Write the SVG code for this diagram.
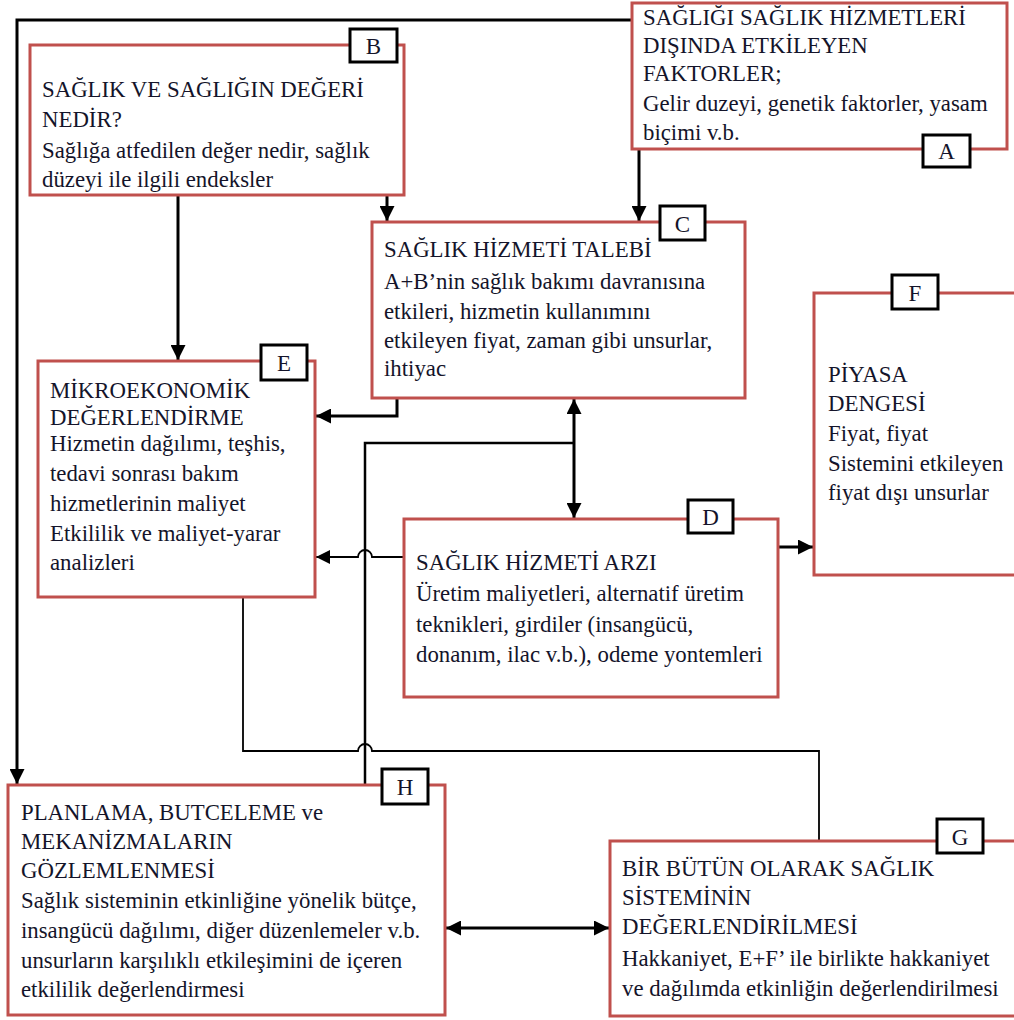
<svg xmlns="http://www.w3.org/2000/svg" width="1014" height="1020" viewBox="0 0 1014 1020" font-family="'Liberation Serif', 'DejaVu Serif', serif">
<style>
.box{fill:#fff;stroke:#c0504d;stroke-width:3}
.lbl{fill:#fff;stroke:#000;stroke-width:3}
.t{font-size:22.8px;fill:#14142a}
.lt{font-size:23px;fill:#14142a;text-anchor:middle}
.c3{fill:none;stroke:#000;stroke-width:3}
.c2{fill:none;stroke:#000;stroke-width:2.5}
.c1{fill:none;stroke:#000;stroke-width:1.8}
</style>
<defs>
<marker id="ah" viewBox="0 0 10 10" refX="10" refY="5" markerWidth="5" markerHeight="5" markerUnits="strokeWidth" orient="auto-start-reverse"><path d="M0,0 L10,5 L0,10 z" fill="#000"/></marker>
<marker id="ahs" viewBox="0 0 10 10" refX="10" refY="5" markerWidth="8" markerHeight="8" markerUnits="strokeWidth" orient="auto-start-reverse"><path d="M0,0 L10,5 L0,10 z" fill="#000"/></marker>
</defs>
<rect width="1014" height="1020" fill="#fff"/>

<g id="connectors">
<path class="c3" d="M632,20 H17 V784" marker-end="url(#ah)"/>
<path class="c3" d="M178,195 V360" marker-end="url(#ah)"/>
<path class="c3" d="M387,195 V221" marker-end="url(#ah)"/>
<path class="c3" d="M639,149 V221" marker-end="url(#ah)"/>
<path class="c3" d="M397,398 V416 H316" marker-end="url(#ah)"/>
<path class="c3" d="M574,399 V518" marker-start="url(#ah)" marker-end="url(#ah)"/>
<path class="c2" d="M574,443 H365 V784"/>
<path class="c1" d="M403,557 H372 A7,7 0 0 0 358,557 H316" marker-end="url(#ahs)"/>
<path class="c3" d="M778,547 H813" marker-end="url(#ah)"/>
<path class="c1" d="M243,597 V751 H358 A7,7 0 0 1 372,751 H819 V840"/>
<path class="c3" d="M446,928 H609" marker-start="url(#ah)" marker-end="url(#ah)"/>
</g>

<g id="nodeA">
<rect class="box" x="632" y="3" width="375" height="146"/>
<text class="t"><tspan x="643" y="25">SAĞLIĞI SAĞLIK HİZMETLERİ</tspan><tspan x="643" y="53">DIŞINDA ETKİLEYEN</tspan><tspan x="643" y="81">FAKTORLER;</tspan><tspan x="643" y="111">Gelir duzeyi, genetik faktorler, yasam</tspan><tspan x="643" y="140">biçimi v.b.</tspan></text>
<rect class="lbl" x="923" y="135" width="47" height="32"/>
<text class="lt" x="946.5" y="159">A</text>
</g>

<g id="nodeB">
<rect class="box" x="30" y="45" width="374" height="150"/>
<text class="t"><tspan x="42" y="97">SAĞLIK VE SAĞLIĞIN DEĞERİ</tspan><tspan x="42" y="127">NEDİR?</tspan><tspan x="42" y="158">Sağlığa atfedilen değer nedir, sağlık</tspan><tspan x="42" y="187">düzeyi ile ilgili endeksler</tspan></text>
<rect class="lbl" x="350" y="29" width="47" height="33"/>
<text class="lt" x="373.5" y="54">B</text>
</g>

<g id="nodeC">
<rect class="box" x="372" y="222" width="373" height="176"/>
<text class="t"><tspan x="384" y="257">SAĞLIK HİZMETİ TALEBİ</tspan><tspan x="384" y="289">A+B’nin sağlık bakımı davranısına</tspan><tspan x="384" y="319">etkileri, hizmetin kullanımını</tspan><tspan x="384" y="348">etkileyen fiyat, zaman gibi unsurlar,</tspan><tspan x="384" y="376">ihtiyac</tspan></text>
<rect class="lbl" x="660" y="206" width="45" height="34"/>
<text class="lt" x="682.5" y="232">C</text>
</g>

<g id="nodeD">
<rect class="box" x="404" y="519" width="374" height="178"/>
<text class="t"><tspan x="416" y="570">SAĞLIK HİZMETİ ARZI</tspan><tspan x="416" y="601">Üretim maliyetleri, alternatif üretim</tspan><tspan x="416" y="632">teknikleri, girdiler (insangücü,</tspan><tspan x="416" y="662">donanım, ilac v.b.), odeme yontemleri</tspan></text>
<rect class="lbl" x="688" y="500" width="45" height="33"/>
<text class="lt" x="710.5" y="525">D</text>
</g>

<g id="nodeE">
<rect class="box" x="38" y="361" width="277" height="236"/>
<text class="t"><tspan x="50" y="398">MİKROEKONOMİK</tspan><tspan x="50" y="425">DEĞERLENDİRME</tspan><tspan x="50" y="451">Hizmetin dağılımı, teşhis,</tspan><tspan x="50" y="481">tedavi sonrası bakım</tspan><tspan x="50" y="511">hizmetlerinin maliyet</tspan><tspan x="50" y="541">Etkililik ve maliyet-yarar</tspan><tspan x="50" y="570">analizleri</tspan></text>
<rect class="lbl" x="261" y="345" width="46" height="35"/>
<text class="lt" x="284" y="371">E</text>
</g>

<g id="nodeF">
<rect class="box" x="814" y="293" width="210" height="282"/>
<text class="t"><tspan x="828" y="382">PİYASA</tspan><tspan x="828" y="411">DENGESİ</tspan><tspan x="828" y="441">Fiyat, fiyat</tspan><tspan x="828" y="471">Sistemini etkileyen</tspan><tspan x="828" y="500">fiyat dışı unsurlar</tspan></text>
<rect class="lbl" x="892" y="275" width="46" height="34"/>
<text class="lt" x="915" y="301">F</text>
</g>

<g id="nodeH">
<rect class="box" x="8" y="785" width="437" height="230"/>
<text class="t"><tspan x="21" y="820">PLANLAMA, BUTCELEME ve</tspan><tspan x="21" y="849">MEKANİZMALARIN</tspan><tspan x="21" y="878">GÖZLEMLENMESİ</tspan><tspan x="21" y="908">Sağlık sisteminin etkinliğine yönelik bütçe,</tspan><tspan x="21" y="938">insangücü dağılımı, diğer düzenlemeler v.b.</tspan><tspan x="21" y="968">unsurların karşılıklı etkileşimini de içeren</tspan><tspan x="21" y="997">etkililik değerlendirmesi</tspan></text>
<rect class="lbl" x="382" y="769" width="46" height="35"/>
<text class="lt" x="405" y="795">H</text>
</g>

<g id="nodeG">
<rect class="box" x="610" y="841" width="414" height="175"/>
<text class="t"><tspan x="622" y="876">BİR BÜTÜN OLARAK SAĞLIK</tspan><tspan x="622" y="905">SİSTEMİNİN</tspan><tspan x="622" y="934">DEĞERLENDİRİLMESİ</tspan><tspan x="622" y="966">Hakkaniyet, E+F’ ile birlikte hakkaniyet</tspan><tspan x="622" y="996">ve dağılımda etkinliğin değerlendirilmesi</tspan></text>
<rect class="lbl" x="937" y="819" width="46" height="34"/>
<text class="lt" x="960" y="845">G</text>
</g>
</svg>
